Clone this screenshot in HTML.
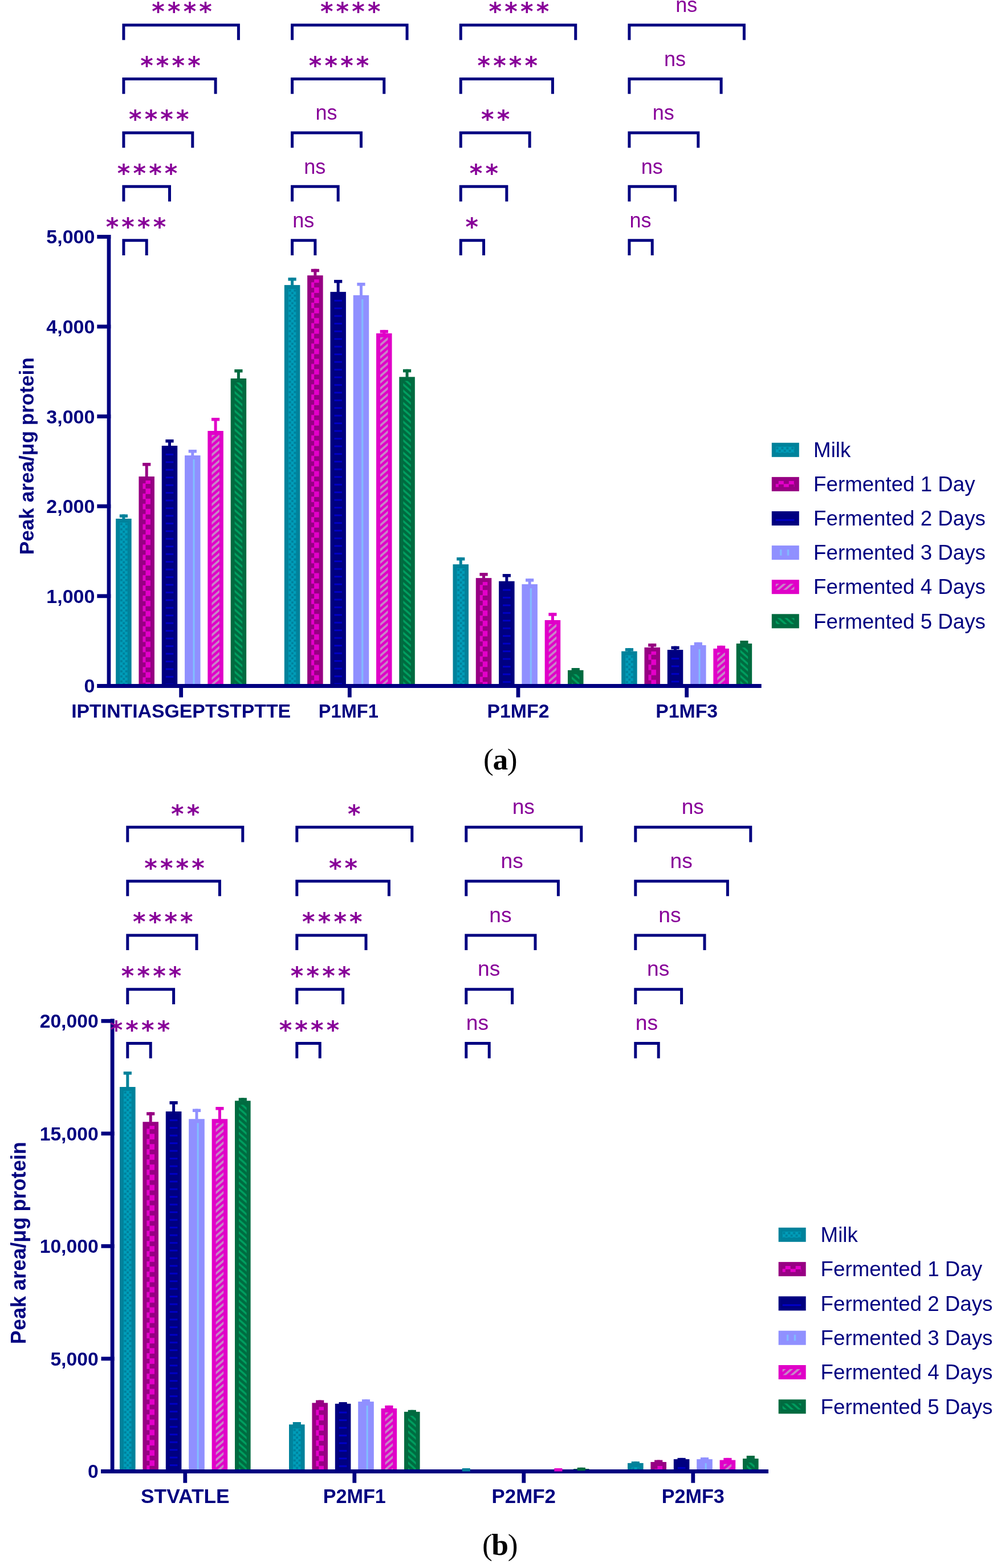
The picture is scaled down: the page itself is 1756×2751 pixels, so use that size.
<!DOCTYPE html>
<html><head><meta charset="utf-8"><title>Peak area figure</title>
<style>
html,body{margin:0;padding:0;background:#fff;overflow:hidden;}
svg{display:block;}
.yl,.xl,.yt{font-family:"Liberation Sans",Arial,sans-serif;font-weight:bold;fill:#000080;}
.lg{font-family:"Liberation Sans",Arial,sans-serif;font-size:36.7px;fill:#000080;}
.ns{font-family:"Liberation Sans",Arial,sans-serif;font-size:36px;fill:#880099;}
.ast{font-family:"DejaVu Sans",sans-serif;font-weight:bold;font-size:43px;letter-spacing:5.2px;fill:#880099;}
.cap{font-family:"Liberation Serif","Times New Roman",serif;font-size:53.5px;letter-spacing:-1.5px;fill:#000;}
</style></head>
<body>
<svg width="1756" height="2751" viewBox="0 0 1756 2751">
<defs>
<pattern id="pMilk" patternUnits="userSpaceOnUse" x="0" y="0" width="8.9" height="8.9">
 <rect width="8.9" height="8.9" fill="#009DB9"/>
 <rect x="0.7" y="0.8" width="4.0" height="3.8" fill="#00809B"/>
 <rect x="5.15" y="5.25" width="3.75" height="3.65" fill="#00809B"/>
</pattern>
<pattern id="pF1" patternUnits="userSpaceOnUse" x="0" y="0" width="18" height="17.9">
 <rect width="18" height="17.9" fill="#970083"/>
 <rect x="5" y="0" width="9" height="5.9" fill="#E400CA"/>
 <rect x="5" y="14.1" width="9" height="3.8" fill="#E400CA"/>
 <rect x="0" y="5.1" width="5" height="9.7" fill="#E400CA"/>
 <rect x="14" y="5.1" width="4" height="9.7" fill="#E400CA"/>
</pattern>
<pattern id="pF2" patternUnits="userSpaceOnUse" x="0" y="0" width="40" height="13.45">
 <rect width="40" height="13.45" fill="#000080"/>
 <rect x="0" y="7.0" width="40" height="2.8" fill="#0000CC"/>
</pattern>
<pattern id="pF3" patternUnits="userSpaceOnUse" x="0" y="0" width="12.8" height="20">
 <rect width="12.8" height="20" fill="#9090FF"/>
 <rect x="7.5" y="0" width="2.9" height="20" fill="#80C0FF"/>
</pattern>
<pattern id="pF4" patternUnits="userSpaceOnUse" x="0" y="0" width="12.6012" height="10.9"><rect width="12.6012" height="10.9" fill="#E000C8"/><polygon points="0.000,-32.400 12.601,-43.300 12.601,-38.500 0.000,-27.600" fill="#C888C8"/><polygon points="0.000,-21.500 12.601,-32.400 12.601,-27.600 0.000,-16.700" fill="#C888C8"/><polygon points="0.000,-10.600 12.601,-21.500 12.601,-16.700 0.000,-5.800" fill="#C888C8"/><polygon points="0.000,0.300 12.601,-10.600 12.601,-5.800 0.000,5.100" fill="#C888C8"/><polygon points="0.000,11.200 12.601,0.300 12.601,5.100 0.000,16.000" fill="#C888C8"/><polygon points="0.000,22.100 12.601,11.200 12.601,16.000 0.000,26.900" fill="#C888C8"/><polygon points="0.000,33.000 12.601,22.100 12.601,26.900 0.000,37.800" fill="#C888C8"/></pattern><pattern id="pF5" patternUnits="userSpaceOnUse" x="0" y="0" width="12.3864" height="10.9"><rect width="12.3864" height="10.9" fill="#006B40"/><polygon points="0.000,-28.800 12.386,-17.900 12.386,-13.400 0.000,-24.300" fill="#00A060"/><polygon points="0.000,-17.900 12.386,-7.000 12.386,-2.500 0.000,-13.400" fill="#00A060"/><polygon points="0.000,-7.000 12.386,3.900 12.386,8.400 0.000,-2.500" fill="#00A060"/><polygon points="0.000,3.900 12.386,14.800 12.386,19.300 0.000,8.400" fill="#00A060"/><polygon points="0.000,14.800 12.386,25.700 12.386,30.200 0.000,19.300" fill="#00A060"/><polygon points="0.000,25.700 12.386,36.600 12.386,41.100 0.000,30.200" fill="#00A060"/><polygon points="0.000,36.600 12.386,47.500 12.386,52.000 0.000,41.100" fill="#00A060"/></pattern></defs>
<rect width="1756" height="2751" fill="#fff"/>
<rect x="187.6" y="412.0" width="6.700000000000017" height="795.0" fill="#000080"/>
<rect x="170.5" y="1200.0" width="1165.2" height="7.0" fill="#000080"/>
<rect x="170.3" y="412.00" width="24.0" height="6.8" fill="#000080"/>
<text x="166.4" y="427.40" text-anchor="end" class="yl" style="font-size:34px">5,000</text>
<rect x="170.3" y="569.60" width="24.0" height="6.8" fill="#000080"/>
<text x="166.4" y="585.00" text-anchor="end" class="yl" style="font-size:34px">4,000</text>
<rect x="170.3" y="727.20" width="24.0" height="6.8" fill="#000080"/>
<text x="166.4" y="742.60" text-anchor="end" class="yl" style="font-size:34px">3,000</text>
<rect x="170.3" y="884.80" width="24.0" height="6.8" fill="#000080"/>
<text x="166.4" y="900.20" text-anchor="end" class="yl" style="font-size:34px">2,000</text>
<rect x="170.3" y="1042.40" width="24.0" height="6.8" fill="#000080"/>
<text x="166.4" y="1057.80" text-anchor="end" class="yl" style="font-size:34px">1,000</text>
<rect x="170.3" y="1200.00" width="24.0" height="6.8" fill="#000080"/>
<text x="166.4" y="1215.40" text-anchor="end" class="yl" style="font-size:34px">0</text>
<rect x="314.25" y="1207.0" width="6.8" height="16.50" fill="#000080"/>
<text x="317.65" y="1258.5" text-anchor="middle" class="xl" style="font-size:33.8px">IPTINTIASGEPTSTPTTE</text>
<rect x="609.92" y="1207.0" width="6.8" height="16.50" fill="#000080"/>
<text x="611.32" y="1258.5" text-anchor="middle" class="xl" style="font-size:33.8px" textLength="105.0" lengthAdjust="spacingAndGlyphs">P1MF1</text>
<rect x="905.59" y="1207.0" width="6.8" height="16.50" fill="#000080"/>
<text x="908.99" y="1258.5" text-anchor="middle" class="xl" style="font-size:33.8px">P1MF2</text>
<rect x="1201.26" y="1207.0" width="6.8" height="16.50" fill="#000080"/>
<text x="1204.66" y="1258.5" text-anchor="middle" class="xl" style="font-size:33.8px">P1MF3</text>
<rect x="203.15" y="910.00" width="27.5" height="290.00" fill="#00829B"/>
<g transform="translate(210.15,917.00)"><rect x="0" y="0" width="13.50" height="283.00" fill="url(#pMilk)"/></g>
<rect x="209.80" y="902.50" width="14.2" height="5.5" fill="#00829B"/>
<rect x="214.40" y="902.50" width="5.0" height="8.00" fill="#00829B"/>
<rect x="243.45" y="836.00" width="27.5" height="364.00" fill="#970083"/>
<g transform="translate(250.45,843.00)"><rect x="0" y="0" width="13.50" height="357.00" fill="url(#pF1)"/></g>
<rect x="250.10" y="812.00" width="14.2" height="5.5" fill="#970083"/>
<rect x="254.70" y="812.00" width="5.0" height="24.50" fill="#970083"/>
<rect x="283.75" y="782.00" width="27.5" height="418.00" fill="#000080"/>
<g transform="translate(290.75,789.00)"><rect x="0" y="0" width="13.50" height="411.00" fill="url(#pF2)"/></g>
<rect x="290.40" y="771.00" width="14.2" height="5.5" fill="#000080"/>
<rect x="295.00" y="771.00" width="5.0" height="11.50" fill="#000080"/>
<rect x="324.05" y="799.00" width="27.5" height="401.00" fill="#9090FF"/>
<g transform="translate(331.05,806.00)"><rect x="0" y="0" width="13.50" height="394.00" fill="url(#pF3)"/></g>
<rect x="330.70" y="789.00" width="14.2" height="5.5" fill="#9090FF"/>
<rect x="335.30" y="789.00" width="5.0" height="10.50" fill="#9090FF"/>
<rect x="364.35" y="756.00" width="27.5" height="444.00" fill="#E000C8"/>
<g transform="translate(371.35,763.00)"><rect x="0" y="0" width="13.50" height="437.00" fill="url(#pF4)"/></g>
<rect x="371.00" y="733.00" width="14.2" height="5.5" fill="#E000C8"/>
<rect x="375.60" y="733.00" width="5.0" height="23.50" fill="#E000C8"/>
<rect x="404.65" y="664.00" width="27.5" height="536.00" fill="#006B40"/>
<g transform="translate(411.65,671.00)"><rect x="0" y="0" width="13.50" height="529.00" fill="url(#pF5)"/></g>
<rect x="411.30" y="648.00" width="14.2" height="5.5" fill="#006B40"/>
<rect x="415.90" y="648.00" width="5.0" height="16.50" fill="#006B40"/>
<rect x="498.82" y="500.10" width="27.5" height="699.90" fill="#00829B"/>
<g transform="translate(505.82,507.10)"><rect x="0" y="0" width="13.50" height="692.90" fill="url(#pMilk)"/></g>
<rect x="505.47" y="487.10" width="14.2" height="5.5" fill="#00829B"/>
<rect x="510.07" y="487.10" width="5.0" height="13.50" fill="#00829B"/>
<rect x="539.12" y="483.20" width="27.5" height="716.80" fill="#970083"/>
<g transform="translate(546.12,490.20)"><rect x="0" y="0" width="13.50" height="709.80" fill="url(#pF1)"/></g>
<rect x="545.77" y="471.80" width="14.2" height="5.5" fill="#970083"/>
<rect x="550.37" y="471.80" width="5.0" height="11.90" fill="#970083"/>
<rect x="579.42" y="512.10" width="27.5" height="687.90" fill="#000080"/>
<g transform="translate(586.42,519.10)"><rect x="0" y="0" width="13.50" height="680.90" fill="url(#pF2)"/></g>
<rect x="586.07" y="491.00" width="14.2" height="5.5" fill="#000080"/>
<rect x="590.67" y="491.00" width="5.0" height="21.60" fill="#000080"/>
<rect x="619.72" y="518.00" width="27.5" height="682.00" fill="#9090FF"/>
<g transform="translate(626.72,525.00)"><rect x="0" y="0" width="13.50" height="675.00" fill="url(#pF3)"/></g>
<rect x="626.37" y="496.00" width="14.2" height="5.5" fill="#9090FF"/>
<rect x="630.97" y="496.00" width="5.0" height="22.50" fill="#9090FF"/>
<rect x="660.02" y="584.80" width="27.5" height="615.20" fill="#E000C8"/>
<g transform="translate(667.02,591.80)"><rect x="0" y="0" width="13.50" height="608.20" fill="url(#pF4)"/></g>
<rect x="666.67" y="578.90" width="14.2" height="5.5" fill="#E000C8"/>
<rect x="671.27" y="578.90" width="5.0" height="6.40" fill="#E000C8"/>
<rect x="700.32" y="661.30" width="27.5" height="538.70" fill="#006B40"/>
<g transform="translate(707.32,668.30)"><rect x="0" y="0" width="13.50" height="531.70" fill="url(#pF5)"/></g>
<rect x="706.97" y="647.80" width="14.2" height="5.5" fill="#006B40"/>
<rect x="711.57" y="647.80" width="5.0" height="14.00" fill="#006B40"/>
<rect x="794.49" y="990.10" width="27.5" height="209.90" fill="#00829B"/>
<g transform="translate(801.49,997.10)"><rect x="0" y="0" width="13.50" height="202.90" fill="url(#pMilk)"/></g>
<rect x="801.14" y="977.90" width="14.2" height="5.5" fill="#00829B"/>
<rect x="805.74" y="977.90" width="5.0" height="12.70" fill="#00829B"/>
<rect x="834.79" y="1014.10" width="27.5" height="185.90" fill="#970083"/>
<g transform="translate(841.79,1021.10)"><rect x="0" y="0" width="13.50" height="178.90" fill="url(#pF1)"/></g>
<rect x="841.44" y="1005.00" width="14.2" height="5.5" fill="#970083"/>
<rect x="846.04" y="1005.00" width="5.0" height="9.60" fill="#970083"/>
<rect x="875.09" y="1019.70" width="27.5" height="180.30" fill="#000080"/>
<g transform="translate(882.09,1026.70)"><rect x="0" y="0" width="13.50" height="173.30" fill="url(#pF2)"/></g>
<rect x="881.74" y="1007.00" width="14.2" height="5.5" fill="#000080"/>
<rect x="886.34" y="1007.00" width="5.0" height="13.20" fill="#000080"/>
<rect x="915.39" y="1025.00" width="27.5" height="175.00" fill="#9090FF"/>
<g transform="translate(922.39,1032.00)"><rect x="0" y="0" width="13.50" height="168.00" fill="url(#pF3)"/></g>
<rect x="922.04" y="1015.10" width="14.2" height="5.5" fill="#9090FF"/>
<rect x="926.64" y="1015.10" width="5.0" height="10.40" fill="#9090FF"/>
<rect x="955.69" y="1088.00" width="27.5" height="112.00" fill="#E000C8"/>
<g transform="translate(962.69,1095.00)"><rect x="0" y="0" width="13.50" height="105.00" fill="url(#pF4)"/></g>
<rect x="962.34" y="1075.20" width="14.2" height="5.5" fill="#E000C8"/>
<rect x="966.94" y="1075.20" width="5.0" height="13.30" fill="#E000C8"/>
<rect x="995.99" y="1175.80" width="27.5" height="24.20" fill="#006B40"/>
<g transform="translate(1002.99,1182.80)"><rect x="0" y="0" width="13.50" height="17.20" fill="url(#pF5)"/></g>
<rect x="1002.64" y="1172.00" width="14.2" height="5.5" fill="#006B40"/>
<rect x="1007.24" y="1172.00" width="5.0" height="4.30" fill="#006B40"/>
<rect x="1090.16" y="1142.60" width="27.5" height="57.40" fill="#00829B"/>
<g transform="translate(1097.16,1149.60)"><rect x="0" y="0" width="13.50" height="50.40" fill="url(#pMilk)"/></g>
<rect x="1096.81" y="1137.10" width="14.2" height="5.5" fill="#00829B"/>
<rect x="1101.41" y="1137.10" width="5.0" height="6.00" fill="#00829B"/>
<rect x="1130.46" y="1135.90" width="27.5" height="64.10" fill="#970083"/>
<g transform="translate(1137.46,1142.90)"><rect x="0" y="0" width="13.50" height="57.10" fill="url(#pF1)"/></g>
<rect x="1137.11" y="1129.10" width="14.2" height="5.5" fill="#970083"/>
<rect x="1141.71" y="1129.10" width="5.0" height="7.30" fill="#970083"/>
<rect x="1170.76" y="1140.10" width="27.5" height="59.90" fill="#000080"/>
<g transform="translate(1177.76,1147.10)"><rect x="0" y="0" width="13.50" height="52.90" fill="url(#pF2)"/></g>
<rect x="1177.41" y="1133.70" width="14.2" height="5.5" fill="#000080"/>
<rect x="1182.01" y="1133.70" width="5.0" height="6.90" fill="#000080"/>
<rect x="1211.06" y="1132.00" width="27.5" height="68.00" fill="#9090FF"/>
<g transform="translate(1218.06,1139.00)"><rect x="0" y="0" width="13.50" height="61.00" fill="url(#pF3)"/></g>
<rect x="1217.71" y="1126.90" width="14.2" height="5.5" fill="#9090FF"/>
<rect x="1222.31" y="1126.90" width="5.0" height="5.60" fill="#9090FF"/>
<rect x="1251.36" y="1137.90" width="27.5" height="62.10" fill="#E000C8"/>
<g transform="translate(1258.36,1144.90)"><rect x="0" y="0" width="13.50" height="55.10" fill="url(#pF4)"/></g>
<rect x="1258.01" y="1132.80" width="14.2" height="5.5" fill="#E000C8"/>
<rect x="1262.61" y="1132.80" width="5.0" height="5.60" fill="#E000C8"/>
<rect x="1291.66" y="1129.10" width="27.5" height="70.90" fill="#006B40"/>
<g transform="translate(1298.66,1136.10)"><rect x="0" y="0" width="13.50" height="63.90" fill="url(#pF5)"/></g>
<rect x="1298.31" y="1124.00" width="14.2" height="5.5" fill="#006B40"/>
<rect x="1302.91" y="1124.00" width="5.0" height="5.60" fill="#006B40"/>
<path d="M214.40,448.00 V419.30 H259.70 V448.00 H254.70 V424.30 H219.40 V448.00 Z" fill="#000080"/>
<text x="241.05" y="413.20" text-anchor="middle" class="ast">****</text>
<path d="M214.40,353.57 V324.87 H300.00 V353.57 H295.00 V329.87 H219.40 V353.57 Z" fill="#000080"/>
<text x="261.20" y="318.77" text-anchor="middle" class="ast">****</text>
<path d="M214.40,259.14 V230.44 H340.30 V259.14 H335.30 V235.44 H219.40 V259.14 Z" fill="#000080"/>
<text x="281.35" y="224.34" text-anchor="middle" class="ast">****</text>
<path d="M214.40,164.71 V136.01 H380.60 V164.71 H375.60 V141.01 H219.40 V164.71 Z" fill="#000080"/>
<text x="301.50" y="129.91" text-anchor="middle" class="ast">****</text>
<path d="M214.40,70.28 V41.58 H420.90 V70.28 H415.90 V46.58 H219.40 V70.28 Z" fill="#000080"/>
<text x="321.65" y="35.48" text-anchor="middle" class="ast">****</text>
<path d="M510.07,448.00 V419.30 H555.37 V448.00 H550.37 V424.30 H515.07 V448.00 Z" fill="#000080"/>
<text x="532.22" y="399.00" text-anchor="middle" class="ns">ns</text>
<path d="M510.07,353.57 V324.87 H595.67 V353.57 H590.67 V329.87 H515.07 V353.57 Z" fill="#000080"/>
<text x="552.37" y="304.57" text-anchor="middle" class="ns">ns</text>
<path d="M510.07,259.14 V230.44 H635.97 V259.14 H630.97 V235.44 H515.07 V259.14 Z" fill="#000080"/>
<text x="572.52" y="210.14" text-anchor="middle" class="ns">ns</text>
<path d="M510.07,164.71 V136.01 H676.27 V164.71 H671.27 V141.01 H515.07 V164.71 Z" fill="#000080"/>
<text x="597.17" y="129.91" text-anchor="middle" class="ast">****</text>
<path d="M510.07,70.28 V41.58 H716.57 V70.28 H711.57 V46.58 H515.07 V70.28 Z" fill="#000080"/>
<text x="617.32" y="35.48" text-anchor="middle" class="ast">****</text>
<path d="M805.74,448.00 V419.30 H851.04 V448.00 H846.04 V424.30 H810.74 V448.00 Z" fill="#000080"/>
<text x="830.39" y="413.20" text-anchor="middle" class="ast">*</text>
<path d="M805.74,353.57 V324.87 H891.34 V353.57 H886.34 V329.87 H810.74 V353.57 Z" fill="#000080"/>
<text x="851.54" y="318.77" text-anchor="middle" class="ast">**</text>
<path d="M805.74,259.14 V230.44 H931.64 V259.14 H926.64 V235.44 H810.74 V259.14 Z" fill="#000080"/>
<text x="871.69" y="224.34" text-anchor="middle" class="ast">**</text>
<path d="M805.74,164.71 V136.01 H971.94 V164.71 H966.94 V141.01 H810.74 V164.71 Z" fill="#000080"/>
<text x="892.84" y="129.91" text-anchor="middle" class="ast">****</text>
<path d="M805.74,70.28 V41.58 H1012.24 V70.28 H1007.24 V46.58 H810.74 V70.28 Z" fill="#000080"/>
<text x="912.99" y="35.48" text-anchor="middle" class="ast">****</text>
<path d="M1101.41,448.00 V419.30 H1146.71 V448.00 H1141.71 V424.30 H1106.41 V448.00 Z" fill="#000080"/>
<text x="1123.56" y="399.00" text-anchor="middle" class="ns">ns</text>
<path d="M1101.41,353.57 V324.87 H1187.01 V353.57 H1182.01 V329.87 H1106.41 V353.57 Z" fill="#000080"/>
<text x="1143.71" y="304.57" text-anchor="middle" class="ns">ns</text>
<path d="M1101.41,259.14 V230.44 H1227.31 V259.14 H1222.31 V235.44 H1106.41 V259.14 Z" fill="#000080"/>
<text x="1163.86" y="210.14" text-anchor="middle" class="ns">ns</text>
<path d="M1101.41,164.71 V136.01 H1267.61 V164.71 H1262.61 V141.01 H1106.41 V164.71 Z" fill="#000080"/>
<text x="1184.01" y="115.71" text-anchor="middle" class="ns">ns</text>
<path d="M1101.41,70.28 V41.58 H1307.91 V70.28 H1302.91 V46.58 H1106.41 V70.28 Z" fill="#000080"/>
<text x="1204.16" y="21.28" text-anchor="middle" class="ns">ns</text>
<text transform="translate(59.4,800.2) rotate(-90)" text-anchor="middle" class="yt" style="font-size:35.2px">Peak area/μg protein</text>
<rect x="1353.8" y="776.80" width="48" height="25" fill="#00829B"/>
<g transform="translate(1360.8,783.80)"><rect width="32.6" height="10.6" fill="url(#pMilk)"/></g>
<text x="1427.1" y="802.00" class="lg">Milk</text>
<rect x="1353.8" y="836.90" width="48" height="25" fill="#970083"/>
<g transform="translate(1360.8,843.90)"><rect width="32.6" height="10.6" fill="url(#pF1)"/></g>
<text x="1427.1" y="862.10" class="lg">Fermented 1 Day</text>
<rect x="1353.8" y="897.00" width="48" height="25" fill="#000080"/>
<g transform="translate(1360.8,904.00)"><rect width="32.6" height="10.6" fill="url(#pF2)"/></g>
<text x="1427.1" y="922.20" class="lg">Fermented 2 Days</text>
<rect x="1353.8" y="957.10" width="48" height="25" fill="#9090FF"/>
<g transform="translate(1360.8,964.10)"><rect width="32.6" height="10.6" fill="url(#pF3)"/></g>
<text x="1427.1" y="982.30" class="lg">Fermented 3 Days</text>
<rect x="1353.8" y="1017.20" width="48" height="25" fill="#E000C8"/>
<g transform="translate(1360.8,1024.20)"><rect width="32.6" height="10.6" fill="url(#pF4)"/></g>
<text x="1427.1" y="1042.40" class="lg">Fermented 4 Days</text>
<rect x="1353.8" y="1077.30" width="48" height="25" fill="#006B40"/>
<g transform="translate(1360.8,1084.30)"><rect width="32.6" height="10.6" fill="url(#pF5)"/></g>
<text x="1427.1" y="1102.50" class="lg">Fermented 5 Days</text>
<text x="877" y="1349.9" text-anchor="middle" class="cap">(<tspan font-weight="bold">a</tspan>)</text>
<rect x="193.7" y="1787.5" width="6.800000000000011" height="797.5" fill="#000080"/>
<rect x="177.0" y="2578.0" width="1171.0" height="7.0" fill="#000080"/>
<rect x="177.5" y="1787.90" width="23.0" height="6.8" fill="#000080"/>
<text x="172.7" y="1803.30" text-anchor="end" class="yl" style="font-size:33.7px">20,000</text>
<rect x="177.5" y="1985.40" width="23.0" height="6.8" fill="#000080"/>
<text x="172.7" y="2000.80" text-anchor="end" class="yl" style="font-size:33.7px">15,000</text>
<rect x="177.5" y="2182.90" width="23.0" height="6.8" fill="#000080"/>
<text x="172.7" y="2198.30" text-anchor="end" class="yl" style="font-size:33.7px">10,000</text>
<rect x="177.5" y="2380.40" width="23.0" height="6.8" fill="#000080"/>
<text x="172.7" y="2395.80" text-anchor="end" class="yl" style="font-size:33.7px">5,000</text>
<rect x="177.5" y="2577.90" width="23.0" height="6.8" fill="#000080"/>
<text x="172.7" y="2593.30" text-anchor="end" class="yl" style="font-size:33.7px">0</text>
<rect x="321.40" y="2585.0" width="6.8" height="16.75" fill="#000080"/>
<text x="324.80" y="2637" text-anchor="middle" class="xl" style="font-size:34.2px" textLength="155.5" lengthAdjust="spacingAndGlyphs">STVATLE</text>
<rect x="618.40" y="2585.0" width="6.8" height="16.75" fill="#000080"/>
<text x="621.80" y="2637" text-anchor="middle" class="xl" style="font-size:34.2px">P2MF1</text>
<rect x="915.40" y="2585.0" width="6.8" height="16.75" fill="#000080"/>
<text x="918.80" y="2637" text-anchor="middle" class="xl" style="font-size:34.2px" textLength="112.4" lengthAdjust="spacingAndGlyphs">P2MF2</text>
<rect x="1212.40" y="2585.0" width="6.8" height="16.75" fill="#000080"/>
<text x="1215.80" y="2637" text-anchor="middle" class="xl" style="font-size:34.2px">P2MF3</text>
<rect x="210.00" y="1907.00" width="27.6" height="671.00" fill="#00829B"/>
<g transform="translate(217.00,1914.00)"><rect x="0" y="0" width="13.60" height="664.00" fill="url(#pMilk)"/></g>
<rect x="216.70" y="1880.00" width="14.2" height="5.5" fill="#00829B"/>
<rect x="221.30" y="1880.00" width="5.0" height="27.50" fill="#00829B"/>
<rect x="250.40" y="1968.25" width="27.6" height="609.75" fill="#970083"/>
<g transform="translate(257.40,1975.25)"><rect x="0" y="0" width="13.60" height="602.75" fill="url(#pF1)"/></g>
<rect x="257.10" y="1951.25" width="14.2" height="5.5" fill="#970083"/>
<rect x="261.70" y="1951.25" width="5.0" height="17.50" fill="#970083"/>
<rect x="290.80" y="1950.00" width="27.6" height="628.00" fill="#000080"/>
<g transform="translate(297.80,1957.00)"><rect x="0" y="0" width="13.60" height="621.00" fill="url(#pF2)"/></g>
<rect x="297.50" y="1932.00" width="14.2" height="5.5" fill="#000080"/>
<rect x="302.10" y="1932.00" width="5.0" height="18.50" fill="#000080"/>
<rect x="331.20" y="1963.25" width="27.6" height="614.75" fill="#9090FF"/>
<g transform="translate(338.20,1970.25)"><rect x="0" y="0" width="13.60" height="607.75" fill="url(#pF3)"/></g>
<rect x="337.90" y="1945.50" width="14.2" height="5.5" fill="#9090FF"/>
<rect x="342.50" y="1945.50" width="5.0" height="18.25" fill="#9090FF"/>
<rect x="371.60" y="1963.25" width="27.6" height="614.75" fill="#E000C8"/>
<g transform="translate(378.60,1970.25)"><rect x="0" y="0" width="13.60" height="607.75" fill="url(#pF4)"/></g>
<rect x="378.30" y="1942.00" width="14.2" height="5.5" fill="#E000C8"/>
<rect x="382.90" y="1942.00" width="5.0" height="21.75" fill="#E000C8"/>
<rect x="412.00" y="1931.25" width="27.6" height="646.75" fill="#006B40"/>
<g transform="translate(419.00,1938.25)"><rect x="0" y="0" width="13.60" height="639.75" fill="url(#pF5)"/></g>
<rect x="418.70" y="1926.25" width="14.2" height="5.5" fill="#006B40"/>
<rect x="423.30" y="1926.25" width="5.0" height="5.50" fill="#006B40"/>
<rect x="507.00" y="2499.20" width="27.6" height="78.80" fill="#00829B"/>
<g transform="translate(514.00,2506.20)"><rect x="0" y="0" width="13.60" height="71.80" fill="url(#pMilk)"/></g>
<rect x="513.70" y="2495.00" width="14.2" height="5.5" fill="#00829B"/>
<rect x="518.30" y="2495.00" width="5.0" height="4.70" fill="#00829B"/>
<rect x="547.40" y="2461.30" width="27.6" height="116.70" fill="#970083"/>
<g transform="translate(554.40,2468.30)"><rect x="0" y="0" width="13.60" height="109.70" fill="url(#pF1)"/></g>
<rect x="554.10" y="2456.60" width="14.2" height="5.5" fill="#970083"/>
<rect x="558.70" y="2456.60" width="5.0" height="5.20" fill="#970083"/>
<rect x="587.80" y="2462.80" width="27.6" height="115.20" fill="#000080"/>
<g transform="translate(594.80,2469.80)"><rect x="0" y="0" width="13.60" height="108.20" fill="url(#pF2)"/></g>
<rect x="594.50" y="2460.00" width="14.2" height="5.5" fill="#000080"/>
<rect x="599.10" y="2460.00" width="5.0" height="3.30" fill="#000080"/>
<rect x="628.20" y="2459.10" width="27.6" height="118.90" fill="#9090FF"/>
<g transform="translate(635.20,2466.10)"><rect x="0" y="0" width="13.60" height="111.90" fill="url(#pF3)"/></g>
<rect x="634.90" y="2455.20" width="14.2" height="5.5" fill="#9090FF"/>
<rect x="639.50" y="2455.20" width="5.0" height="4.40" fill="#9090FF"/>
<rect x="668.60" y="2471.00" width="27.6" height="107.00" fill="#E000C8"/>
<g transform="translate(675.60,2478.00)"><rect x="0" y="0" width="13.60" height="100.00" fill="url(#pF4)"/></g>
<rect x="675.30" y="2465.90" width="14.2" height="5.5" fill="#E000C8"/>
<rect x="679.90" y="2465.90" width="5.0" height="5.60" fill="#E000C8"/>
<rect x="709.00" y="2476.90" width="27.6" height="101.10" fill="#006B40"/>
<g transform="translate(716.00,2483.90)"><rect x="0" y="0" width="13.60" height="94.10" fill="url(#pF5)"/></g>
<rect x="715.70" y="2473.80" width="14.2" height="5.5" fill="#006B40"/>
<rect x="720.30" y="2473.80" width="5.0" height="3.60" fill="#006B40"/>
<rect x="810.70" y="2576.00" width="14.2" height="5.5" fill="#00829B"/>
<rect x="815.30" y="2576.00" width="5.0" height="2.50" fill="#00829B"/>



<rect x="972.30" y="2576.00" width="14.2" height="5.5" fill="#E000C8"/>
<rect x="976.90" y="2576.00" width="5.0" height="2.50" fill="#E000C8"/>
<rect x="1006.00" y="2577.00" width="27.6" height="1.00" fill="#006B40"/>
<rect x="1012.70" y="2574.80" width="14.2" height="5.5" fill="#006B40"/>
<rect x="1017.30" y="2574.80" width="5.0" height="2.70" fill="#006B40"/>
<rect x="1101.00" y="2566.90" width="27.6" height="11.10" fill="#00829B"/>
<g transform="translate(1108.00,2573.90)"><rect x="0" y="0" width="13.60" height="4.10" fill="url(#pMilk)"/></g>
<rect x="1107.70" y="2564.20" width="14.2" height="5.5" fill="#00829B"/>
<rect x="1112.30" y="2564.20" width="5.0" height="3.20" fill="#00829B"/>
<rect x="1141.40" y="2565.00" width="27.6" height="13.00" fill="#970083"/>
<g transform="translate(1148.40,2572.00)"><rect x="0" y="0" width="13.60" height="6.00" fill="url(#pF1)"/></g>
<rect x="1148.10" y="2561.60" width="14.2" height="5.5" fill="#970083"/>
<rect x="1152.70" y="2561.60" width="5.0" height="3.90" fill="#970083"/>
<rect x="1181.80" y="2560.10" width="27.6" height="17.90" fill="#000080"/>
<g transform="translate(1188.80,2567.10)"><rect x="0" y="0" width="13.60" height="10.90" fill="url(#pF2)"/></g>
<rect x="1188.50" y="2557.90" width="14.2" height="5.5" fill="#000080"/>
<rect x="1193.10" y="2557.90" width="5.0" height="2.70" fill="#000080"/>
<rect x="1222.20" y="2560.10" width="27.6" height="17.90" fill="#9090FF"/>
<g transform="translate(1229.20,2567.10)"><rect x="0" y="0" width="13.60" height="10.90" fill="url(#pF3)"/></g>
<rect x="1228.90" y="2557.10" width="14.2" height="5.5" fill="#9090FF"/>
<rect x="1233.50" y="2557.10" width="5.0" height="3.50" fill="#9090FF"/>
<rect x="1262.60" y="2561.60" width="27.6" height="16.40" fill="#E000C8"/>
<g transform="translate(1269.60,2568.60)"><rect x="0" y="0" width="13.60" height="9.40" fill="url(#pF4)"/></g>
<rect x="1269.30" y="2557.90" width="14.2" height="5.5" fill="#E000C8"/>
<rect x="1273.90" y="2557.90" width="5.0" height="4.20" fill="#E000C8"/>
<rect x="1303.00" y="2559.10" width="27.6" height="18.90" fill="#006B40"/>
<g transform="translate(1310.00,2566.10)"><rect x="0" y="0" width="13.60" height="11.90" fill="url(#pF5)"/></g>
<rect x="1309.70" y="2554.00" width="14.2" height="5.5" fill="#006B40"/>
<rect x="1314.30" y="2554.00" width="5.0" height="5.60" fill="#006B40"/>
<path d="M221.30,1856.70 V1828.00 H266.70 V1856.70 H261.70 V1833.00 H226.30 V1856.70 Z" fill="#000080"/>
<text x="248.00" y="1821.90" text-anchor="middle" class="ast">****</text>
<path d="M221.30,1761.90 V1733.20 H307.10 V1761.90 H302.10 V1738.20 H226.30 V1761.90 Z" fill="#000080"/>
<text x="268.20" y="1727.10" text-anchor="middle" class="ast">****</text>
<path d="M221.30,1667.10 V1638.40 H347.50 V1667.10 H342.50 V1643.40 H226.30 V1667.10 Z" fill="#000080"/>
<text x="288.40" y="1632.30" text-anchor="middle" class="ast">****</text>
<path d="M221.30,1572.30 V1543.60 H387.90 V1572.30 H382.90 V1548.60 H226.30 V1572.30 Z" fill="#000080"/>
<text x="308.60" y="1537.50" text-anchor="middle" class="ast">****</text>
<path d="M221.30,1477.50 V1448.80 H428.30 V1477.50 H423.30 V1453.80 H226.30 V1477.50 Z" fill="#000080"/>
<text x="327.80" y="1442.70" text-anchor="middle" class="ast">**</text>
<path d="M518.30,1856.70 V1828.00 H563.70 V1856.70 H558.70 V1833.00 H523.30 V1856.70 Z" fill="#000080"/>
<text x="545.00" y="1821.90" text-anchor="middle" class="ast">****</text>
<path d="M518.30,1761.90 V1733.20 H604.10 V1761.90 H599.10 V1738.20 H523.30 V1761.90 Z" fill="#000080"/>
<text x="565.20" y="1727.10" text-anchor="middle" class="ast">****</text>
<path d="M518.30,1667.10 V1638.40 H644.50 V1667.10 H639.50 V1643.40 H523.30 V1667.10 Z" fill="#000080"/>
<text x="585.40" y="1632.30" text-anchor="middle" class="ast">****</text>
<path d="M518.30,1572.30 V1543.60 H684.90 V1572.30 H679.90 V1548.60 H523.30 V1572.30 Z" fill="#000080"/>
<text x="604.60" y="1537.50" text-anchor="middle" class="ast">**</text>
<path d="M518.30,1477.50 V1448.80 H725.30 V1477.50 H720.30 V1453.80 H523.30 V1477.50 Z" fill="#000080"/>
<text x="623.80" y="1442.70" text-anchor="middle" class="ast">*</text>
<path d="M815.30,1856.70 V1828.00 H860.70 V1856.70 H855.70 V1833.00 H820.30 V1856.70 Z" fill="#000080"/>
<text x="837.50" y="1807.20" text-anchor="middle" class="ns" style="font-size:37.2px">ns</text>
<path d="M815.30,1761.90 V1733.20 H901.10 V1761.90 H896.10 V1738.20 H820.30 V1761.90 Z" fill="#000080"/>
<text x="857.70" y="1712.40" text-anchor="middle" class="ns" style="font-size:37.2px">ns</text>
<path d="M815.30,1667.10 V1638.40 H941.50 V1667.10 H936.50 V1643.40 H820.30 V1667.10 Z" fill="#000080"/>
<text x="877.90" y="1617.60" text-anchor="middle" class="ns" style="font-size:37.2px">ns</text>
<path d="M815.30,1572.30 V1543.60 H981.90 V1572.30 H976.90 V1548.60 H820.30 V1572.30 Z" fill="#000080"/>
<text x="898.10" y="1522.80" text-anchor="middle" class="ns" style="font-size:37.2px">ns</text>
<path d="M815.30,1477.50 V1448.80 H1022.30 V1477.50 H1017.30 V1453.80 H820.30 V1477.50 Z" fill="#000080"/>
<text x="918.30" y="1428.00" text-anchor="middle" class="ns" style="font-size:37.2px">ns</text>
<path d="M1112.30,1856.70 V1828.00 H1157.70 V1856.70 H1152.70 V1833.00 H1117.30 V1856.70 Z" fill="#000080"/>
<text x="1134.50" y="1807.20" text-anchor="middle" class="ns" style="font-size:37.2px">ns</text>
<path d="M1112.30,1761.90 V1733.20 H1198.10 V1761.90 H1193.10 V1738.20 H1117.30 V1761.90 Z" fill="#000080"/>
<text x="1154.70" y="1712.40" text-anchor="middle" class="ns" style="font-size:37.2px">ns</text>
<path d="M1112.30,1667.10 V1638.40 H1238.50 V1667.10 H1233.50 V1643.40 H1117.30 V1667.10 Z" fill="#000080"/>
<text x="1174.90" y="1617.60" text-anchor="middle" class="ns" style="font-size:37.2px">ns</text>
<path d="M1112.30,1572.30 V1543.60 H1278.90 V1572.30 H1273.90 V1548.60 H1117.30 V1572.30 Z" fill="#000080"/>
<text x="1195.10" y="1522.80" text-anchor="middle" class="ns" style="font-size:37.2px">ns</text>
<path d="M1112.30,1477.50 V1448.80 H1319.30 V1477.50 H1314.30 V1453.80 H1117.30 V1477.50 Z" fill="#000080"/>
<text x="1215.30" y="1428.00" text-anchor="middle" class="ns" style="font-size:37.2px">ns</text>
<text transform="translate(44.8,2180.7) rotate(-90)" text-anchor="middle" class="yt" style="font-size:36.1px">Peak area/μg protein</text>
<rect x="1365.7" y="2153.80" width="48" height="25" fill="#00829B"/>
<g transform="translate(1372.7,2160.80)"><rect width="32.6" height="10.6" fill="url(#pMilk)"/></g>
<text x="1439.6000000000001" y="2179.00" class="lg">Milk</text>
<rect x="1365.7" y="2214.10" width="48" height="25" fill="#970083"/>
<g transform="translate(1372.7,2221.10)"><rect width="32.6" height="10.6" fill="url(#pF1)"/></g>
<text x="1439.6000000000001" y="2239.30" class="lg">Fermented 1 Day</text>
<rect x="1365.7" y="2274.40" width="48" height="25" fill="#000080"/>
<g transform="translate(1372.7,2281.40)"><rect width="32.6" height="10.6" fill="url(#pF2)"/></g>
<text x="1439.6000000000001" y="2299.60" class="lg">Fermented 2 Days</text>
<rect x="1365.7" y="2334.70" width="48" height="25" fill="#9090FF"/>
<g transform="translate(1372.7,2341.70)"><rect width="32.6" height="10.6" fill="url(#pF3)"/></g>
<text x="1439.6000000000001" y="2359.90" class="lg">Fermented 3 Days</text>
<rect x="1365.7" y="2395.00" width="48" height="25" fill="#E000C8"/>
<g transform="translate(1372.7,2402.00)"><rect width="32.6" height="10.6" fill="url(#pF4)"/></g>
<text x="1439.6000000000001" y="2420.20" class="lg">Fermented 4 Days</text>
<rect x="1365.7" y="2455.30" width="48" height="25" fill="#006B40"/>
<g transform="translate(1372.7,2462.30)"><rect width="32.6" height="10.6" fill="url(#pF5)"/></g>
<text x="1439.6000000000001" y="2480.50" class="lg">Fermented 5 Days</text>
<text x="876.5" y="2727.5" text-anchor="middle" class="cap">(<tspan font-weight="bold">b</tspan>)</text>
</svg>
</body></html>
